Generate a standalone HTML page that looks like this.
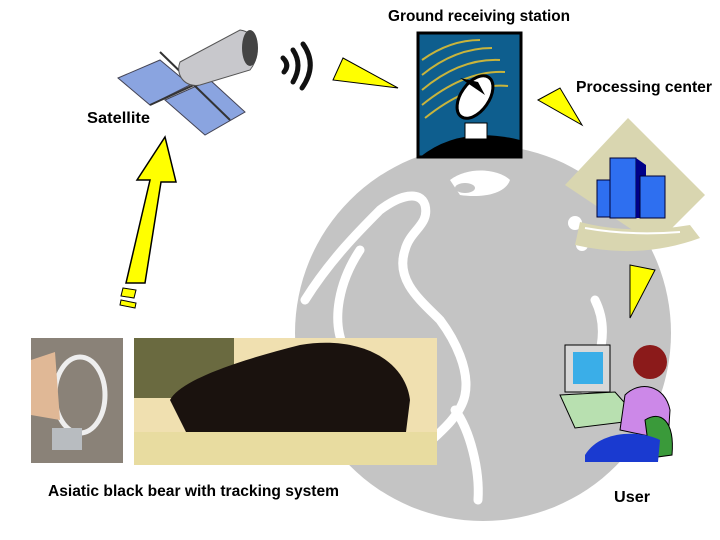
<!DOCTYPE html>
<html><head><meta charset="utf-8"><style>
html,body{margin:0;padding:0;background:#fff;width:720px;height:540px;overflow:hidden}
text{font-family:"Liberation Sans",sans-serif;font-weight:bold;fill:#000}
</style></head><body>
<svg width="720" height="540" viewBox="0 0 720 540" xmlns="http://www.w3.org/2000/svg">
<circle cx="483" cy="333" r="188" fill="#c4c4c4"/>
<g fill="none" stroke="#fff" stroke-width="9" stroke-linecap="round">
<path d="M305 300 C330 260,360 230,380 210 C400 195,420 190,425 205 C430 225,410 230,405 250 C395 280,420 300,440 320 C455 340,470 370,465 395 C460 420,430 440,410 460"/>
<path d="M360 250 C340 280,330 320,345 350 C360 380,380 390,390 420"/>
<path d="M455 410 C470 430,480 470,478 500"/>
<path d="M595 300 C610 330,600 360,585 390"/>
</g>
<path d="M450 180 C470 165,500 170,510 180 C505 195,480 198,460 195 Z" fill="#fff"/>
<ellipse cx="465" cy="188" rx="10" ry="5" fill="#c4c4c4"/>
<circle cx="575" cy="223" r="7" fill="#fff"/>
<circle cx="582" cy="245" r="6" fill="#fff"/>
<rect x="418" y="33" width="103" height="124" fill="#0e5e8e" stroke="#000" stroke-width="3"/>
<g fill="none" stroke="#c8b43c" stroke-width="2">
<path d="M422 60 Q450 40 480 40"/><path d="M422 75 Q455 48 492 48"/><path d="M422 90 Q460 58 500 60"/><path d="M422 105 Q465 70 505 72"/><path d="M425 118 Q470 82 508 86"/>
</g>
<path d="M420 157 Q460 125 520 140 L520 157 Z" fill="#000"/>
<rect x="465" y="123" width="22" height="16" fill="#fff" stroke="#000"/>
<ellipse cx="475" cy="97" rx="14" ry="24" transform="rotate(35 475 97)" fill="#fff" stroke="#000" stroke-width="3"/>
<path d="M460 78 L485 95 L478 82 Z" fill="#000"/>
<g>
<polygon points="118,78 160,60 190,85 150,105" fill="#8aa4e0" stroke="#445" stroke-width="1"/>
<polygon points="165,100 210,80 245,112 205,135" fill="#8aa4e0" stroke="#445" stroke-width="1"/>
<line x1="160" y1="52" x2="230" y2="120" stroke="#333" stroke-width="2"/>
<line x1="150" y1="105" x2="205" y2="80" stroke="#333" stroke-width="2"/>
<path d="M180 62 L240 30 C258 32,262 55,250 70 L200 85 C185 88,175 75,180 62 Z" fill="#c8c8cc" stroke="#555"/>
<ellipse cx="250" cy="48" rx="8" ry="18" fill="#444"/>
</g>
<g fill="none" stroke="#111" stroke-width="5" stroke-linecap="round">
<path d="M283 58 Q290 65 284 72"/><path d="M293 50 Q303 65 293 82"/><path d="M303 44 Q318 65 302 88"/>
</g>
<polygon points="333,80 343,58 398,88" fill="#ffff00" stroke="#000"/>
<polygon points="538,100 560,88 582,125" fill="#ffff00" stroke="#000"/>
<polygon points="630,265 655,270 630,318" fill="#ffff00" stroke="#000"/>
<polygon points="126,283 145,283 161,182 176,182 165,137 137,180 150,180" fill="#ffff00" stroke="#000" stroke-width="1.5"/>
<polygon points="123,288 136,290 134,298 121,296" fill="#ffff00" stroke="#000"/>
<polygon points="121,300 136,303 135,308 120,305" fill="#ffff00" stroke="#000"/>
<polygon points="628,118 705,195 655,245 565,185" fill="#d9d6b0"/>
<path d="M580 222 Q630 235 690 225 L700 238 Q640 260 575 245 Z" fill="#d9d6b0"/>
<path d="M585 228 Q630 236 680 232" stroke="#fff" stroke-width="2" fill="none"/>
<rect x="597" y="180" width="14" height="37" fill="#2e6ff0" stroke="#003"/>
<rect x="610" y="158" width="26" height="60" fill="#2e6ff0" stroke="#003"/>
<polygon points="636,158 646,165 646,218 636,218" fill="#000088"/>
<rect x="640" y="176" width="25" height="42" fill="#2e6ff0" stroke="#003"/>
<rect x="31" y="338" width="92" height="125" fill="#8a8278"/>
<ellipse cx="80" cy="395" rx="25" ry="38" fill="none" stroke="#eee" stroke-width="5"/>
<rect x="52" y="428" width="30" height="22" fill="#b8bcc0"/>
<path d="M31 360 L55 352 L60 420 L31 415 Z" fill="#e0b896"/>
<rect x="134" y="338" width="303" height="127" fill="#f0e0b0"/>
<rect x="134" y="338" width="100" height="60" fill="#6a6a40"/>
<path d="M170 400 C180 380,240 360,300 345 C360 335,405 360,410 400 L405 440 L190 440 Z" fill="#1a120e"/>
<rect x="134" y="432" width="303" height="33" fill="#e8dca0"/>
<rect x="565" y="345" width="45" height="47" fill="#d8d8d8" stroke="#000"/>
<rect x="573" y="352" width="30" height="32" fill="#3aaee8"/>
<polygon points="560,395 615,392 640,420 575,428" fill="#b8e0b0" stroke="#000"/>
<circle cx="650" cy="362" r="17" fill="#8b1a1a"/>
<path d="M625 395 C640 380,665 385,670 410 L668 440 L620 430 Z" fill="#cc88e8" stroke="#000"/>
<path d="M645 420 C660 410,675 420,672 455 L650 458 Z" fill="#3a9a3a" stroke="#000"/>
<path d="M585 455 C600 430,640 430,660 440 L658 462 L585 462 Z" fill="#1a3ad0"/>
<text x="388" y="21" font-size="16" textLength="182" lengthAdjust="spacingAndGlyphs">Ground receiving station</text>
<text x="576" y="92" font-size="16" textLength="136" lengthAdjust="spacingAndGlyphs">Processing center</text>
<text x="87" y="123" font-size="16" textLength="63" lengthAdjust="spacingAndGlyphs">Satellite</text>
<text x="48" y="496" font-size="16" textLength="291" lengthAdjust="spacingAndGlyphs">Asiatic black bear with tracking system</text>
<text x="614" y="502" font-size="16" textLength="36" lengthAdjust="spacingAndGlyphs">User</text>
</svg>
</body></html>
